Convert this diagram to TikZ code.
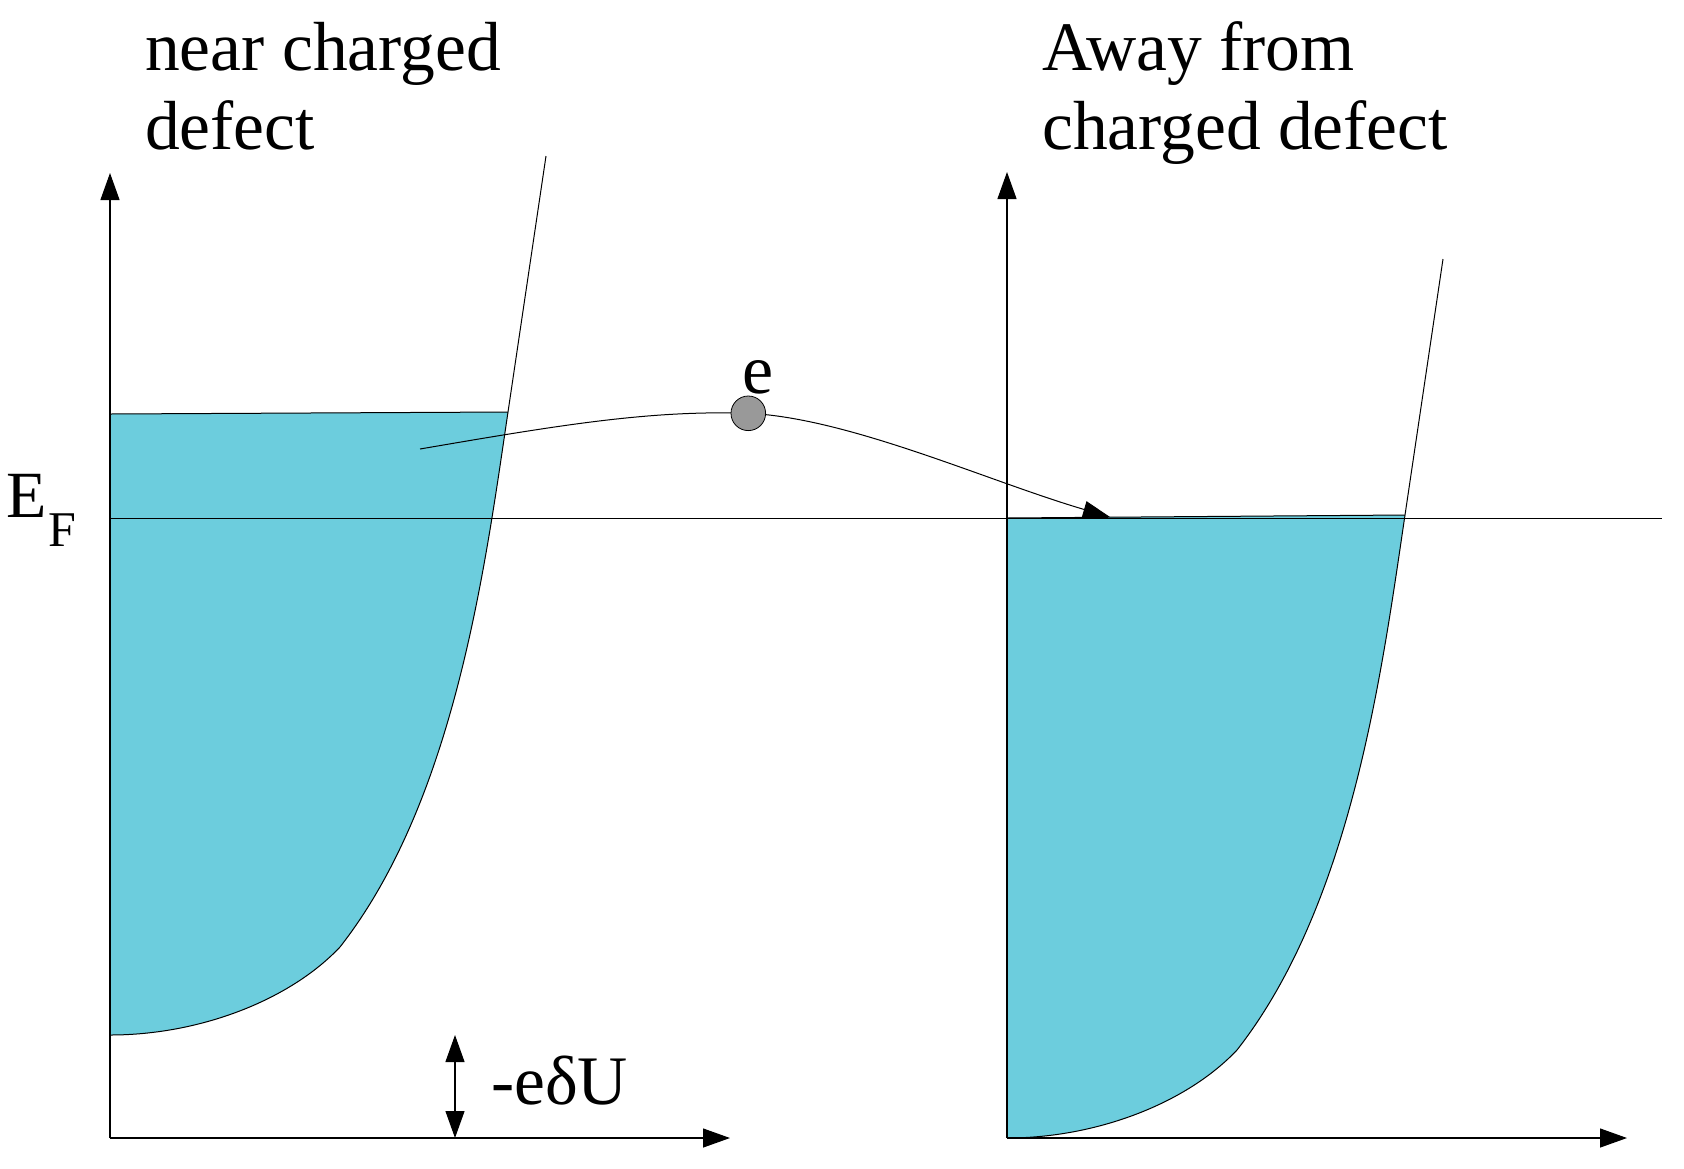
\documentclass[tikz,border=0pt]{standalone}
\usepackage{fontspec}
\setmainfont{Liberation Serif}
\usetikzlibrary{arrows.meta}
\definecolor{bandfill}{RGB}{108,205,221}
\definecolor{elgray}{RGB}{153,153,153}
\tikzset{
  axisline/.style={line width=1.2pt,-{Triangle[length=27pt,width=19pt]}},
  thinline/.style={line width=1pt},
  bigtext/.style={inner sep=0pt,anchor=base west,font=\fontsize{69.5}{79}\selectfont},
}
\begin{document}
\begin{tikzpicture}[x=1pt,y=-1pt]
\useasboundingbox[fill=white] (0,0) rectangle (1684,1168);
% coordinates
\coordinate (LO) at (110,1138);
\coordinate (LY) at (110,173);
\coordinate (LX) at (730,1138);
\coordinate (RO) at (1007,1138);
\coordinate (RY) at (1007,172);
\coordinate (RX) at (1627,1138);
\coordinate (EFa) at (110,518);
\coordinate (EFb) at (1662,518);
% left band (and right band = same shape shifted)
\foreach \dx/\dy/\tl in {0/0/414, 897/103/415}{
  \begin{scope}[shift={(\dx,\dy)}]
    \fill[bandfill] (110,\tl) -- (508,412) .. controls (485,567) and (455,800) .. (340,947)
      .. controls (290,1000) and (200,1035) .. (110,1035) -- cycle;
    \draw[thinline] (110,\tl) -- (508,412);
    \draw[thinline] (546,156) -- (508,412) .. controls (485,567) and (455,800) .. (340,947)
      .. controls (290,1000) and (200,1035) .. (110,1035);
  \end{scope}
}
% axes
\draw[axisline] (LO) -- (LY);
\draw[axisline] (LO) -- (LX);
\draw[axisline] (RO) -- (RY);
\draw[axisline] (RO) -- (RX);
\draw[thinline] (EFa) -- (EFb);
% energy shift arrow
\coordinate (dUt) at (455,1035);
\coordinate (dUb) at (455,1138);
\draw[line width=1.2pt,{Triangle[length=27pt,width=19pt]}-{Triangle[length=27pt,width=19pt]}] (dUt) -- (dUb);
% electron path
\coordinate (eStart) at (420,449);
\coordinate (eTop) at (748.3,413.3);
\coordinate (eEnd) at (1110,517);
\draw[thinline,-{Triangle[length=27pt,width=17pt]}] (eStart) .. controls (560,425) and (650,410) .. (eTop)
  .. controls (850,418) and (990,482) .. (eEnd);
\node[circle,fill=elgray,draw=black,line width=0.8pt,minimum size=34.6pt,inner sep=0pt] (el) at (eTop) {};
% labels
\node[inner sep=0pt,anchor=base,font=\fontsize{70}{80}\selectfont] (elab) at (758.5,393) {e};
\node[bigtext] (t1a) at (145,70) {near charged};
\node[bigtext] (t1b) at (145,149) {defect};
\node[bigtext] (t2a) at (1042,70) {Away from};
\node[bigtext] (t2b) at (1042,149) {charged defect};
\node[inner sep=0pt,anchor=base west,font=\fontsize{66}{70}\selectfont] (EF) at (6,517) {E};
\node[inner sep=0pt,anchor=base west,font=\fontsize{50}{55}\selectfont] (EFs) at (48,546) {F};
\node[bigtext] (dU) at (491,1104) {-eδU};
\end{tikzpicture}
\end{document}
